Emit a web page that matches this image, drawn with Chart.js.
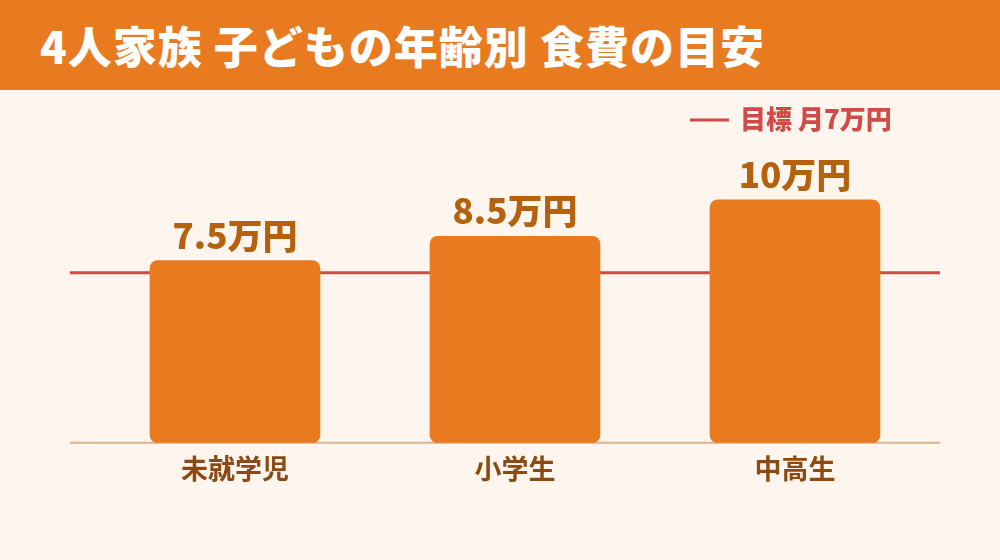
<!DOCTYPE html>
<html lang="ja">
<head>
<meta charset="utf-8">
<script src="https://cdn.jsdelivr.net/npm/chart.js@4"></script>
<style>
    body { margin: 0; width: 1000px; height: 560px; background: #FEF6EE; overflow: hidden; font-family: "Noto Sans CJK JP", sans-serif; }
    #title { height: 90px; background: #E87A1F; color: #fff; font-size: 44px; font-weight: 900; line-height: 90px; padding-left: 40px; box-sizing: border-box; letter-spacing: 1px; }
    #chart { position: absolute; left: 0; top: 90px; }
</style>
</head>
<body>
<div id="title">4人家族 子どもの年齢別 食費の目安</div>
<canvas id="chart" width="1000" height="470"></canvas>
<script>
const categories = ['未就学児', '小学生', '中高生'];
const foodCost = [7.5, 8.5, 10];   // 万円 / 月
const target = 7;                  // 目標 月7万円
const targetLabel = '目標 月7万円';

const FONT = '"Noto Sans CJK JP", sans-serif';

// target line + baseline, drawn behind the bars
const linesPlugin = {
    id: 'lines',
    beforeDatasetsDraw(chart) {
        const ctx = chart.ctx;
        const y = chart.scales.y;
        const left = chart.chartArea.left - 25;
        const right = chart.chartArea.right + 5;
        ctx.save();
        ctx.strokeStyle = '#D9B38C';
        ctx.lineWidth = 2;
        ctx.beginPath();
        ctx.moveTo(left, y.getPixelForValue(0));
        ctx.lineTo(right, y.getPixelForValue(0));
        ctx.stroke();
        ctx.strokeStyle = '#D04A48';
        ctx.lineWidth = 3;
        ctx.beginPath();
        ctx.moveTo(left, y.getPixelForValue(target));
        ctx.lineTo(right, y.getPixelForValue(target));
        ctx.stroke();
        ctx.restore();
    },
    afterDatasetsDraw(chart) {
        const ctx = chart.ctx;
        ctx.save();
        // value labels on top of bars
        ctx.fillStyle = '#B5620F';
        ctx.font = '900 35px ' + FONT;
        ctx.textAlign = 'center';
        ctx.textBaseline = 'alphabetic';
        chart.getDatasetMeta(0).data.forEach((bar, i) => {
            ctx.fillText(foodCost[i] + '万円', bar.x, bar.y - 12);
        });
        // legend for target line
        ctx.strokeStyle = '#D04A48';
        ctx.lineWidth = 3;
        ctx.beginPath();
        ctx.moveTo(690, 30);
        ctx.lineTo(729, 30);
        ctx.stroke();
        ctx.fillStyle = '#D04A48';
        ctx.font = '900 26px ' + FONT;
        ctx.textAlign = 'left';
        ctx.textBaseline = 'middle';
        ctx.fillText(targetLabel, 740, 29);
        ctx.restore();
    }
};

new Chart(document.querySelector('#chart').getContext('2d'), {
    type: 'bar',
    data: {
        labels: categories,
        datasets: [{
            data: foodCost,
            backgroundColor: '#E87A20',
            barThickness: 170,
            borderRadius: 8,
            borderSkipped: false
        }]
    },
    options: {
        responsive: false,
        animation: false,
        layout: { padding: { left: 95, right: 65, top: 12.6, bottom: 64.8 } },
        plugins: { legend: { display: false }, tooltip: { enabled: false } },
        scales: {
            x: {
                grid: { display: false, drawTicks: false },
                border: { display: false },
                ticks: { color: '#8A4A12', font: { family: FONT, size: 27, weight: 'bold' }, padding: 10 }
            },
            y: { display: false, min: 0, max: 14 }
        }
    },
    plugins: [linesPlugin]
});
</script>
</body>
</html>
